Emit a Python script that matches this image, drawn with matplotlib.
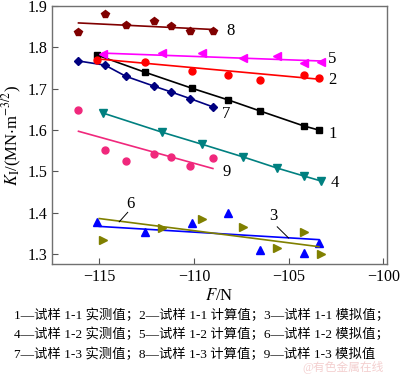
import numpy as np
import matplotlib
matplotlib.use('Agg')
import matplotlib.pyplot as plt

plt.rcParams['font.family'] = ['Liberation Serif', 'Noto Sans CJK SC']
plt.rcParams['mathtext.fontset'] = 'stix'

# x positions (F / N) for each group of series
x_meas = [-115.1, -112.6, -110.1, -108.2, -106.5, -104.2, -103.4]   # 1, 2, 3
x_calc = [-114.8, -111.7, -109.6, -107.4, -105.6, -104.2, -103.3]   # 4, 5, 6
x_s3 = [-116.1, -114.7, -113.6, -112.1, -111.2, -110.2, -109.0]     # 7, 8, 9

# K_I values
k1 = [1.781, 1.740, 1.701, 1.673, 1.646, 1.610, 1.600]
k2 = [1.769, 1.764, 1.743, 1.733, 1.721, 1.733, 1.725]
k3 = [1.377, 1.353, 1.375, 1.399, 1.310, 1.302, 1.327]
k4 = [1.641, 1.595, 1.566, 1.535, 1.508, 1.489, 1.477]
k5 = [1.784, 1.786, 1.786, 1.774, 1.779, 1.762, 1.765]
k6 = [1.334, 1.363, 1.385, 1.366, 1.314, 1.353, 1.300]
k7 = [1.767, 1.757, 1.730, 1.706, 1.692, 1.676, 1.656]
k8 = [1.837, 1.880, 1.854, 1.864, 1.852, 1.840, 1.840]
k9 = [1.648, 1.552, 1.525, 1.542, 1.535, 1.513, 1.532]

# trend line end points (x0, x1), (y0, y1)
fit2 = ([-115.1, -103.4], [1.772, 1.723])
fit3 = ([-115.0, -103.4], [1.367, 1.335])
fit5 = ([-114.8, -103.3], [1.786, 1.767])
fit6 = ([-115.0, -103.4], [1.386, 1.318])
fit8 = ([-116.1, -108.9], [1.859, 1.843])
fit9 = ([-116.1, -109.0], [1.597, 1.507])

fig = plt.figure(figsize=(4, 3.74), dpi=100)
ax = fig.add_axes([0.13, 0.294, 0.8375, 0.69])

# lines through points
ax.plot(x_meas, k1, color='black', marker='s', ms=4.5, lw=1.2)
ax.plot(x_calc, k4, color='#008080', marker='v', ms=6, lw=1.2)
ax.plot(x_s3, k7, color='#000080', marker='D', ms=4.5, lw=1.2)

# scatter + trend lines
series = [
    (x_meas, k2, fit2, '#FF0000', 'o', 5),
    (x_meas, k3, fit3, '#0000FF', '^', 6),
    (x_calc, k5, fit5, '#FF00FF', '<', 6),
    (x_calc, k6, fit6, '#808000', '>', 6),
    (x_s3, k8, fit8, '#800000', 'p', 6),
    (x_s3, k9, fit9, '#F0287C', 'o', 5),
]
for xs, ys, fit, c, m, ms in series:
    ax.plot(xs, ys, ls='none', color=c, marker=m, ms=ms)
    ax.plot(fit[0], fit[1], color=c, lw=1.2)

# number labels
fs = 12
ax.text(-108.3, 1.839, '8', fontsize=fs, va='center')
ax.text(-102.9, 1.772, '5', fontsize=fs, va='center')
ax.text(-102.9, 1.721, '2', fontsize=fs, va='center')
ax.text(-102.9, 1.590, '1', fontsize=fs, va='center')
ax.text(-108.5, 1.639, '7', fontsize=fs, va='center')
ax.text(-102.8, 1.472, '4', fontsize=fs, va='center')
ax.text(-108.5, 1.498, '9', fontsize=fs, va='center')
ax.text(-106.0, 1.392, '3', fontsize=fs, va='center')
ax.plot([-105.6, -105.0], [1.366, 1.339], color='black', lw=0.7)
ax.text(-113.6, 1.420, '6', fontsize=fs, va='center')
ax.plot([-113.5, -113.95], [1.401, 1.378], color='black', lw=0.7)

ax.set_xlim(-117.5, -99.8)
ax.set_ylim(1.276, 1.9)
ax.set_xticks([-115, -110, -105, -100])
ax.set_yticks([1.3, 1.4, 1.5, 1.6, 1.7, 1.8, 1.9])
ax.set_xticklabels(['\u2212115', '\u2212110', '\u2212105', '\u2212100'])
ax.tick_params(direction='in', labelsize=11.5, length=4, color='#555555')
for sp in ax.spines.values():
    sp.set_color('#707070')
    sp.set_linewidth(1.0)
ax.set_xlabel('$F$/N', fontsize=12, labelpad=2)
ax.set_ylabel(r'$K_{\rm I}$/(MN$\cdot$m$^{-3/2}$)', fontsize=12, labelpad=2)

caption = [
    '1—试样 1-1 实测值；2—试样 1-1 计算值；3—试样 1-1 模拟值；',
    '4—试样 1-2 实测值；5—试样 1-2 计算值；6—试样 1-2 模拟值；',
    '7—试样 1-3 实测值；8—试样 1-3 计算值；9—试样 1-3 模拟值',
]
for i, line in enumerate(caption):
    fig.text(0.035, 1 - (315 + 19.5 * i) / 374, line, fontsize=9.6, va='center')
fig.text(0.96, 0.008, '@有色金属在线', fontsize=8.5, color='#E8A0A0', alpha=0.5, ha='right')

fig.savefig('out.png', dpi=100)
